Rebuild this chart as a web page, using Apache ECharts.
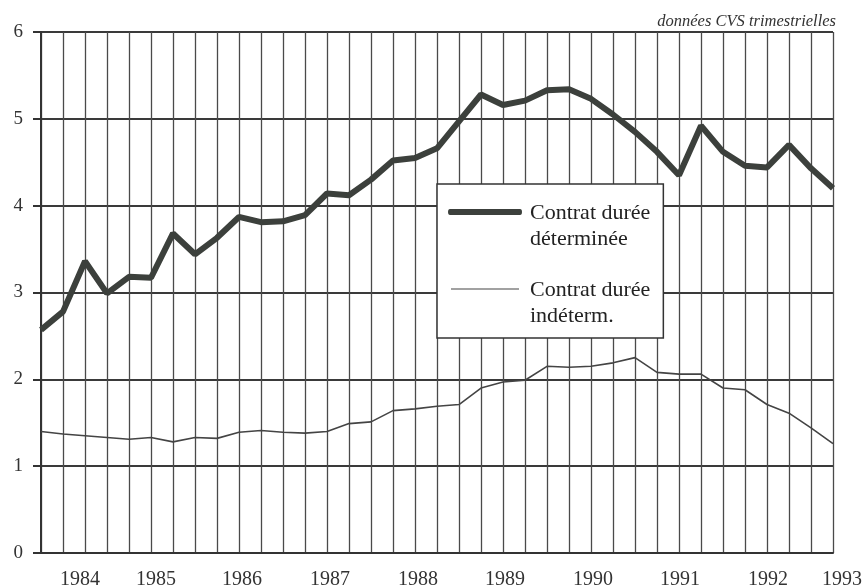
<!DOCTYPE html>
<html><head><meta charset="utf-8">
<script src="https://cdn.jsdelivr.net/npm/echarts@6/dist/echarts.min.js"></script>
<style>html,body{margin:0;padding:0;background:#fff}#c{width:863px;height:587px}</style>
</head><body><div id="c"></div>
<script>
const quarters = ['1983 T4','1984 T1','1984 T2','1984 T3','1984 T4','1985 T1','1985 T2','1985 T3','1985 T4',
  '1986 T1','1986 T2','1986 T3','1986 T4','1987 T1','1987 T2','1987 T3','1987 T4','1988 T1','1988 T2','1988 T3','1988 T4',
  '1989 T1','1989 T2','1989 T3','1989 T4','1990 T1','1990 T2','1990 T3','1990 T4','1991 T1','1991 T2','1991 T3','1991 T4',
  '1992 T1','1992 T2','1992 T3','1992 T4'];
const cdd = [2.57, 2.78, 3.36, 2.99, 3.18, 3.17, 3.68, 3.44, 3.63, 3.87, 3.81, 3.82, 3.89, 4.14, 4.12, 4.30, 4.52, 4.55, 4.66,
  4.97, 5.28, 5.16, 5.21, 5.33, 5.34, 5.23, 5.05, 4.85, 4.62, 4.35, 4.92, 4.62, 4.46, 4.44, 4.70, 4.43, 4.20];
const cdi = [1.40, 1.37, 1.35, 1.33, 1.31, 1.33, 1.28, 1.33, 1.32, 1.39, 1.41, 1.39, 1.38, 1.40, 1.49, 1.51, 1.64, 1.66, 1.69,
  1.71, 1.90, 1.97, 1.99, 2.15, 2.14, 2.15, 2.19, 2.25, 2.08, 2.06, 2.06, 1.90, 1.88, 1.71, 1.61, 1.44, 1.26];
const yearLabels = ['1984','1985','1986','1987','1988','1989','1990','1991','1992','1993'];
const yearLabelAt = [1.77, 5.23, 9.14, 13.14, 17.14, 21.09, 25.09, 29.05, 33.05, 36];
const nameCDD = 'Contrat durée\ndéterminée';
const nameCDI = 'Contrat durée\nindéterm.';

const FONT = 'Liberation Serif';
const chart = echarts.init(document.getElementById('c'), null, {renderer: 'canvas'});
chart.setOption({
  animation: false,
  backgroundColor: '#fff',
  title: {
    text: 'données CVS trimestrielles', right: 22, top: 8,
    textStyle: {fontFamily: FONT, fontStyle: 'italic', fontWeight: 'normal', fontSize: 16.5, color: '#333'}
  },
  grid: {left: 41, right: 30, top: 32, bottom: 34, outerBoundsMode: 'none', containLabel: false},
  legend: {
    orient: 'vertical', left: 437, top: 184, align: 'left',
    padding: [16, 13, 9, 11], itemGap: 25,
    itemWidth: 77, itemHeight: 50,
    backgroundColor: '#fff', borderColor: '#333', borderWidth: 1.5,
    itemStyle: {borderWidth: 0},
    textStyle: {fontFamily: FONT, fontSize: 22, lineHeight: 26, color: '#222'},
    data: [
      {name: nameCDD, icon: 'path://M0,0M77,50M2,8L72,8Q74,8 74,11Q74,14 72,14L2,14Q0,14 0,11Q0,8 2,8Z', itemStyle: {color: '#3c403c'}},
      {name: nameCDI, icon: 'path://M0,0M77,50M3,10.4L71,10.4L71,11.6L3,11.6Z', itemStyle: {color: '#444'}}
    ]
  },
  xAxis: [{
    type: 'category', data: quarters, boundaryGap: false,
    axisLine: {show: true, lineStyle: {color: '#333', width: 2}},
    axisTick: {show: false}, axisLabel: {show: false},
    splitLine: {show: true, interval: 0, lineStyle: {color: '#4a4a4a', width: 1.3}}
  }, {
    type: 'value', min: 0, max: 36, position: 'bottom',
    axisLine: {show: false}, axisTick: {show: false}, splitLine: {show: false},
    axisLabel: {
      customValues: yearLabelAt, margin: 17,
      fontFamily: FONT, fontSize: 20, color: '#333',
      formatter: function (v) {
        const i = yearLabelAt.indexOf(v);
        const t = i >= 0 ? yearLabels[i] : '';
        return i === yearLabels.length - 1 ? '{r|' + t + '}' : t;
      },
      rich: {r: {fontFamily: FONT, fontSize: 20, color: '#333', padding: [0, 0, 0, 18]}}
    }
  }],
  yAxis: {
    type: 'value', min: 0, max: 6, interval: 1,
    axisLine: {show: true, lineStyle: {color: '#333', width: 2}},
    axisTick: {show: true, length: 8, lineStyle: {color: '#333', width: 2}},
    axisLabel: {margin: 18, fontFamily: FONT, fontSize: 19, color: '#333'},
    splitLine: {show: true, lineStyle: {color: '#3a3a3a', width: 1.8}}
  },
  series: [{
    name: nameCDI, type: 'line', data: cdi, xAxisIndex: 0, symbol: 'none', z: 3,
    lineStyle: {color: '#444', width: 1.6}, itemStyle: {color: '#444'}
  }, {
    name: nameCDD, type: 'line', data: cdd, xAxisIndex: 0, symbol: 'none', z: 4,
    lineStyle: {color: '#3c403c', width: 6}, itemStyle: {color: '#3c403c'}
  }]
});
</script>
</body></html>
